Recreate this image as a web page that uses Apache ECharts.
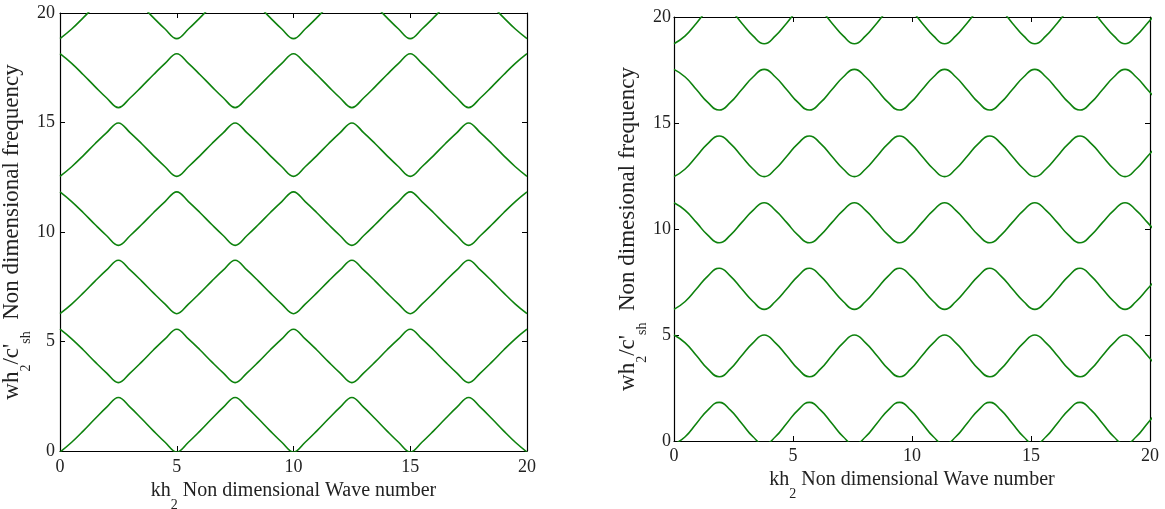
<!DOCTYPE html>
<html>
<head>
<meta charset="utf-8">
<script src="https://cdn.jsdelivr.net/npm/echarts@6/dist/echarts.min.js"></script>
<style>
  html, body { margin: 0; padding: 0; background: #fff; }
  #chart { width: 1165px; height: 509px; }
</style>
</head>
<body>
<div id="chart"></div>
<script>
// ---- left panel: kh2 samples and the seven branches
var k_left = [0,0.5,1,1.5,2,2.5,3,3.5,4,4.5,5,5.5,6,6.5,7,7.5,8,8.5,9,9.5,10,
              10.5,11,11.5,12,12.5,13,13.5,14,14.5,15,15.5,16,16.5,17,17.5,18,18.5,19,19.5,20];

var left_b1 = [-0.05,0.40,0.92,1.47,2.00,2.44,2.00,1.47,0.92,0.40,
               -0.05,0.40,0.92,1.47,2.00,2.44,2.00,1.47,0.92,0.40,
               -0.05,0.40,0.92,1.47,2.00,2.44,2.00,1.47,0.92,0.40,
               -0.05,0.40,0.92,1.47,2.00,2.44,2.00,1.47,0.92,0.40,-0.05];
var left_b2 = [5.56,5.12,4.61,4.07,3.56,3.12,3.56,4.07,4.61,5.12,
               5.56,5.12,4.61,4.07,3.56,3.12,3.56,4.07,4.61,5.12,
               5.56,5.12,4.61,4.07,3.56,3.12,3.56,4.07,4.61,5.12,
               5.56,5.12,4.61,4.07,3.56,3.12,3.56,4.07,4.61,5.12,5.56];
var left_b3 = [6.27,6.71,7.22,7.76,8.27,8.71,8.27,7.76,7.22,6.71,
               6.27,6.71,7.22,7.76,8.27,8.71,8.27,7.76,7.22,6.71,
               6.27,6.71,7.22,7.76,8.27,8.71,8.27,7.76,7.22,6.71,
               6.27,6.71,7.22,7.76,8.27,8.71,8.27,7.76,7.22,6.71,6.27];
var left_b4 = [11.83,11.39,10.88,10.34,9.83,9.39,9.83,10.34,10.88,11.39,
               11.83,11.39,10.88,10.34,9.83,9.39,9.83,10.34,10.88,11.39,
               11.83,11.39,10.88,10.34,9.83,9.39,9.83,10.34,10.88,11.39,
               11.83,11.39,10.88,10.34,9.83,9.39,9.83,10.34,10.88,11.39,11.83];
var left_b5 = [12.54,12.98,13.49,14.03,14.54,14.98,14.54,14.03,13.49,12.98,
               12.54,12.98,13.49,14.03,14.54,14.98,14.54,14.03,13.49,12.98,
               12.54,12.98,13.49,14.03,14.54,14.98,14.54,14.03,13.49,12.98,
               12.54,12.98,13.49,14.03,14.54,14.98,14.54,14.03,13.49,12.98,12.54];
var left_b6 = [18.14,17.70,17.18,16.64,16.12,15.68,16.12,16.64,17.18,17.70,
               18.14,17.70,17.18,16.64,16.12,15.68,16.12,16.64,17.18,17.70,
               18.14,17.70,17.18,16.64,16.12,15.68,16.12,16.64,17.18,17.70,
               18.14,17.70,17.18,16.64,16.12,15.68,16.12,16.64,17.18,17.70,18.14];
var left_b7 = [18.83,19.27,19.79,20.34,20.86,21.30,20.86,20.34,19.79,19.27,
               18.83,19.27,19.79,20.34,20.86,21.30,20.86,20.34,19.79,19.27,
               18.83,19.27,19.79,20.34,20.86,21.30,20.86,20.34,19.79,19.27,
               18.83,19.27,19.79,20.34,20.86,21.30,20.86,20.34,19.79,19.27,18.83];

// ---- right panel
var k_right = [0,0.47,0.95,1.42,1.90,2.37,2.84,3.32,3.79,4.26,4.74,5.21,5.69,6.16,6.63,
               7.11,7.58,8.05,8.53,9.00,9.48,9.95,10.42,10.90,11.37,11.84,12.32,12.79,
               13.27,13.74,14.21,14.69,15.16,15.63,16.11,16.58,17.06,17.53,18.00,18.48,
               18.95,19.42,19.90,20.37];

var right_b1 = [-0.15,0.20,0.84,1.46,1.82,1.46,0.84,0.20, -0.15,0.20,0.84,1.46,1.82,1.46,0.84,0.20,
                -0.15,0.20,0.84,1.46,1.82,1.46,0.84,0.20, -0.15,0.20,0.84,1.46,1.82,1.46,0.84,0.20,
                -0.15,0.20,0.84,1.46,1.82,1.46,0.84,0.20, -0.15,0.20,0.84,1.46];
var right_b2 = [5.00,4.63,4.02,3.40,3.03,3.40,4.02,4.63, 5.00,4.63,4.02,3.40,3.03,3.40,4.02,4.63,
                5.00,4.63,4.02,3.40,3.03,3.40,4.02,4.63, 5.00,4.63,4.02,3.40,3.03,3.40,4.02,4.63,
                5.00,4.63,4.02,3.40,3.03,3.40,4.02,4.63, 5.00,4.63,4.02,3.40];
var right_b3 = [6.21,6.58,7.18,7.78,8.15,7.78,7.18,6.58, 6.21,6.58,7.18,7.78,8.15,7.78,7.18,6.58,
                6.21,6.58,7.18,7.78,8.15,7.78,7.18,6.58, 6.21,6.58,7.18,7.78,8.15,7.78,7.18,6.58,
                6.21,6.58,7.18,7.78,8.15,7.78,7.18,6.58, 6.21,6.58,7.18,7.78];
var right_b4 = [11.24,10.88,10.30,9.71,9.35,9.71,10.30,10.88, 11.24,10.88,10.30,9.71,9.35,9.71,10.30,10.88,
                11.24,10.88,10.30,9.71,9.35,9.71,10.30,10.88, 11.24,10.88,10.30,9.71,9.35,9.71,10.30,10.88,
                11.24,10.88,10.30,9.71,9.35,9.71,10.30,10.88, 11.24,10.88,10.30,9.71];
var right_b5 = [12.47,12.83,13.43,14.03,14.39,14.03,13.43,12.83, 12.47,12.83,13.43,14.03,14.39,14.03,13.43,12.83,
                12.47,12.83,13.43,14.03,14.39,14.03,13.43,12.83, 12.47,12.83,13.43,14.03,14.39,14.03,13.43,12.83,
                12.47,12.83,13.43,14.03,14.39,14.03,13.43,12.83, 12.47,12.83,13.43,14.03];
var right_b6 = [17.53,17.17,16.57,15.97,15.61,15.97,16.57,17.17, 17.53,17.17,16.57,15.97,15.61,15.97,16.57,17.17,
                17.53,17.17,16.57,15.97,15.61,15.97,16.57,17.17, 17.53,17.17,16.57,15.97,15.61,15.97,16.57,17.17,
                17.53,17.17,16.57,15.97,15.61,15.97,16.57,17.17, 17.53,17.17,16.57,15.97];
var right_b7 = [18.74,19.11,19.72,20.33,20.70,20.33,19.72,19.11, 18.74,19.11,19.72,20.33,20.70,20.33,19.72,19.11,
                18.74,19.11,19.72,20.33,20.70,20.33,19.72,19.11, 18.74,19.11,19.72,20.33,20.70,20.33,19.72,19.11,
                18.74,19.11,19.72,20.33,20.70,20.33,19.72,19.11, 18.74,19.11,19.72,20.33];

var x_title = '{a|kh}{s|2}{a| Non dimensional Wave number}';
var y_title_left = "{a|wh}{s|2}{a|/c'}{s|sh}{a|  Non dimensional frequency}";
var y_title_right = "{a|wh}{s|2}{a|/c'}{s|sh}{a|  Non dimesional frequency}";

var FONT = 'Liberation Serif';
var LINE_GREEN = '#0e820e';

// main text sits on top of the line box, subscript pushed down with padding
function title_style(size, line_h, sub_pad){
  return {
    fontFamily: FONT,
    color: '#222',
    rich: {
      a: {fontFamily: FONT, color: '#222', fontSize: size, lineHeight: line_h, verticalAlign: 'top'},
      s: {fontFamily: FONT, color: '#222', fontSize: 14, lineHeight: 14, verticalAlign: 'top', padding: [sub_pad, 0, 0, 0]}
    }
  }
}

function frame_axis(grid_index, position, show_labels, label_margin){
  return {
    type: 'value',
    gridIndex: grid_index,
    position: position,
    min: 0,
    max: 20,
    interval: 5,
    axisLine: {show: true, onZero: false, lineStyle: {color: '#000', width: 1.2}},
    axisTick: {show: true, inside: true, length: 5, lineStyle: {color: '#000', width: 1}},
    axisLabel: {show: show_labels, margin: label_margin, color: '#222', fontFamily: FONT, fontSize: 18},
    splitLine: {show: false}
  }
}

function make_series(name, k, w, axis_index, smooth){
  var pts = Array()
  k.forEach(function(e, i){
    pts.push([e, w[i]])
  })
  return {
    name: name,
    type: 'line',
    xAxisIndex: axis_index,
    yAxisIndex: axis_index,
    data: pts,
    showSymbol: false,
    symbol: 'none',
    smooth: smooth,
    clip: true,
    silent: true,
    lineStyle: {color: LINE_GREEN, width: 1.6}
  }
}

var chart_div = echarts.init(document.getElementById('chart'), null, {renderer: 'canvas'});

var x_bottom_left = frame_axis(0, 'bottom', true, 7);
x_bottom_left.name = x_title;
x_bottom_left.nameLocation = 'middle';
x_bottom_left.nameGap = 19;
x_bottom_left.nameTextStyle = title_style(20, 22, 17);

var y_left_left = frame_axis(0, 'left', true, 5);
y_left_left.name = y_title_left;
y_left_left.nameLocation = 'middle';
y_left_left.nameGap = 21;
y_left_left.nameTextStyle = title_style(23, 24, 19);

var x_bottom_right = frame_axis(1, 'bottom', true, 6);
x_bottom_right.name = x_title;
x_bottom_right.nameLocation = 'middle';
x_bottom_right.nameGap = 23;
x_bottom_right.nameTextStyle = title_style(20, 22, 17);

var y_left_right = frame_axis(1, 'left', true, 3);
y_left_right.name = y_title_right;
y_left_right.nameLocation = 'middle';
y_left_right.nameGap = 19;
y_left_right.nameTextStyle = title_style(23, 24, 19);

var option = {
  animation: false,
  backgroundColor: '#fff',
  grid: [
    {left: 60, top: 13, width: 467, height: 438, containLabel: false, outerBoundsMode: 'none'},
    {left: 674, top: 17, width: 476, height: 424, containLabel: false, outerBoundsMode: 'none'}
  ],
  xAxis: [
    x_bottom_left,
    x_bottom_right,
    frame_axis(0, 'top', false, 0),
    frame_axis(1, 'top', false, 0)
  ],
  yAxis: [
    y_left_left,
    y_left_right,
    frame_axis(0, 'right', false, 0),
    frame_axis(1, 'right', false, 0)
  ],
  series: [
    make_series('L1', k_left, left_b1, 0, 0.4),
    make_series('L2', k_left, left_b2, 0, 0.4),
    make_series('L3', k_left, left_b3, 0, 0.4),
    make_series('L4', k_left, left_b4, 0, 0.4),
    make_series('L5', k_left, left_b5, 0, 0.4),
    make_series('L6', k_left, left_b6, 0, 0.4),
    make_series('L7', k_left, left_b7, 0, 0.4),
    make_series('R1', k_right, right_b1, 1, 0.5),
    make_series('R2', k_right, right_b2, 1, 0.5),
    make_series('R3', k_right, right_b3, 1, 0.5),
    make_series('R4', k_right, right_b4, 1, 0.5),
    make_series('R5', k_right, right_b5, 1, 0.5),
    make_series('R6', k_right, right_b6, 1, 0.5),
    make_series('R7', k_right, right_b7, 1, 0.5)
  ]
};

chart_div.setOption(option, true);
</script>
</body>
</html>
